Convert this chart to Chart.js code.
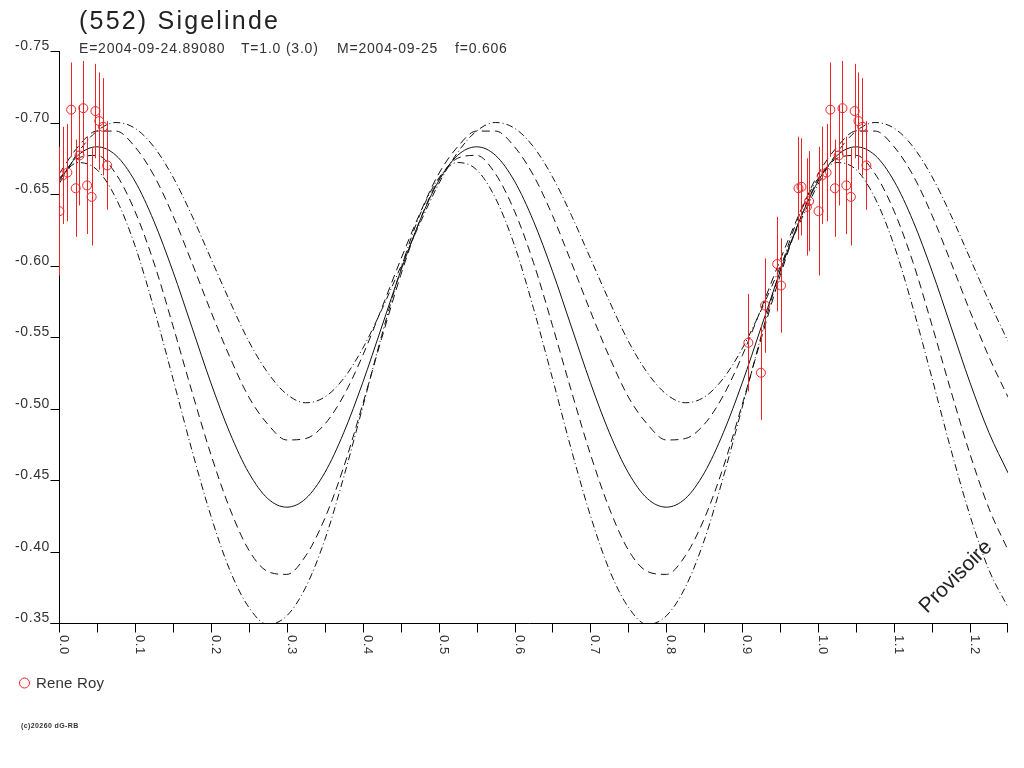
<!DOCTYPE html>
<html>
<head>
<meta charset="utf-8">
<title>(552) Sigelinde</title>
<script src="https://cdn.jsdelivr.net/npm/chart.js@4.4.1/dist/chart.umd.min.js"></script>
<style>
  html, body { margin: 0; padding: 0; background: #fff; }
  #wrap { width: 1024px; height: 768px; }
</style>
</head>
<body>
<div id="wrap"><canvas id="lc" width="1024" height="768"></canvas></div>
<script>
// phase grid of the fitted curves (0 .. 1.25)
const phaseGrid = [0,0.025,0.05,0.075,0.1,0.125,0.15,0.175,0.2,0.225,0.25,0.275,0.3,0.325,0.35,0.375,0.4,0.425,0.45,0.475,
  0.5,0.525,0.55,0.575,0.6,0.625,0.65,0.675,0.7,0.725,0.75,0.775,0.8,0.825,0.85,0.875,0.9,0.925,0.95,0.975,
  1,1.025,1.05,1.075,1.1,1.125,1.15,1.175,1.2,1.225,1.25];

// fitted light curve (solid) and the period variants (dashed / dash-dot)
const fitMain = [-0.659,-0.677,-0.683,-0.677,-0.659,-0.631,-0.596,-0.557,-0.518,-0.483,-0.455,-0.437,-0.431,-0.437,-0.455,-0.483,-0.518,-0.557,-0.596,-0.631,
  -0.659,-0.677,-0.683,-0.677,-0.659,-0.631,-0.596,-0.557,-0.518,-0.483,-0.455,-0.437,-0.431,-0.437,-0.455,-0.483,-0.518,-0.557,-0.596,-0.631,
  -0.659,-0.677,-0.683,-0.677,-0.659,-0.631,-0.596,-0.557,-0.518,-0.483,-0.455];
const fitDashA = [-0.660,-0.675,-0.677,-0.664,-0.638,-0.602,-0.558,-0.512,-0.468,-0.430,-0.401,-0.386,-0.384,-0.397,-0.423,-0.459,-0.503,-0.549,-0.593,-0.631,
  -0.660,-0.675,-0.677,-0.664,-0.638,-0.602,-0.558,-0.512,-0.468,-0.430,-0.401,-0.386,-0.384,-0.397,-0.423,-0.459,-0.503,-0.549,-0.593,-0.631,
  -0.660,-0.675,-0.677,-0.664,-0.638,-0.602,-0.558,-0.512,-0.468,-0.430,-0.401];
const fitDashB = [-0.664,-0.683,-0.694,-0.694,-0.683,-0.663,-0.635,-0.602,-0.568,-0.536,-0.508,-0.489,-0.478,-0.479,-0.489,-0.509,-0.537,-0.570,-0.604,-0.636,
  -0.664,-0.683,-0.694,-0.694,-0.683,-0.663,-0.635,-0.602,-0.568,-0.536,-0.508,-0.489,-0.478,-0.479,-0.489,-0.509,-0.537,-0.570,-0.604,-0.636,
  -0.664,-0.683,-0.694,-0.694,-0.683,-0.663,-0.635,-0.602,-0.568,-0.536,-0.508];
const fitDotA = [-0.661,-0.672,-0.667,-0.647,-0.614,-0.570,-0.521,-0.471,-0.425,-0.387,-0.361,-0.349,-0.355,-0.375,-0.408,-0.452,-0.501,-0.551,-0.597,-0.635,
  -0.661,-0.672,-0.667,-0.647,-0.614,-0.570,-0.521,-0.471,-0.425,-0.387,-0.361,-0.349,-0.355,-0.375,-0.408,-0.452,-0.501,-0.551,-0.597,-0.635,
  -0.661,-0.672,-0.667,-0.647,-0.614,-0.570,-0.521,-0.471,-0.425,-0.387,-0.361];
const fitDotB = [-0.657,-0.679,-0.694,-0.700,-0.696,-0.683,-0.662,-0.635,-0.605,-0.575,-0.547,-0.525,-0.510,-0.504,-0.508,-0.521,-0.542,-0.569,-0.599,-0.629,
  -0.657,-0.679,-0.694,-0.700,-0.696,-0.683,-0.662,-0.635,-0.605,-0.575,-0.547,-0.525,-0.510,-0.504,-0.508,-0.521,-0.542,-0.569,-0.599,-0.629,
  -0.657,-0.679,-0.694,-0.700,-0.696,-0.683,-0.662,-0.635,-0.605,-0.575,-0.547];

// observations (Rene Roy): phase, magnitude, error
const obsPhase = [0.0005,0.005,0.011,0.016,0.022,0.027,0.032,0.037,0.043,0.048,0.053,0.058,0.0635,
  0.908,0.9246,0.930,0.946,0.951,0.974,0.978,0.985,0.988,
  1.0005,1.005,1.011,1.016,1.022,1.027,1.032,1.037,1.043,1.048,1.053,1.058,1.0635];
const obsMag = [-0.638,-0.663,-0.665,-0.709,-0.654,-0.677,-0.710,-0.656,-0.648,-0.708,-0.701,-0.697,-0.670,
  -0.546,-0.525,-0.572,-0.601,-0.586,-0.654,-0.655,-0.641,-0.645,
  -0.638,-0.663,-0.665,-0.709,-0.654,-0.677,-0.710,-0.656,-0.648,-0.708,-0.701,-0.697,-0.670];
const obsErr = [0.045,0.034,0.034,0.033,0.034,0.035,0.033,0.034,0.034,0.033,0.034,0.034,0.031,
  0.034,0.033,0.033,0.033,0.033,0.036,0.034,0.034,0.035,
  0.045,0.034,0.034,0.033,0.034,0.035,0.033,0.034,0.034,0.033,0.034,0.034,0.031];

// axis ticks
const xMajor = [0,0.1,0.2,0.3,0.4,0.5,0.6,0.7,0.8,0.9,1.0,1.1,1.2];
const xMinor = [0.05,0.15,0.25,0.35,0.45,0.55,0.65,0.75,0.85,0.95,1.05,1.15,1.25];
const xLabels = ['0.0','0.1','0.2','0.3','0.4','0.5','0.6','0.7','0.8','0.9','1.0','1.1','1.2'];
const yTicks = [-0.75,-0.70,-0.65,-0.60,-0.55,-0.50,-0.45,-0.40,-0.35];

const RED = '#ee2222';
const FONT = '"Liberation Sans", Arial, sans-serif';

function xy(xs, ys) {
    return xs.map((x, i) => ({ x: x, y: ys[i] }));
}

function curve(values, dash) {
    return {
        data: xy(phaseGrid, values),
        showLine: true,
        borderColor: '#111',
        borderWidth: 1,
        borderDash: dash,
        pointRadius: 0,
        cubicInterpolationMode: 'monotone'
    };
}

// axes, error bars and all the text
const framePlugin = {
    id: 'frame',
    beforeDatasetsDraw(chart) {
        const ctx = chart.ctx, xs = chart.scales.x, ys = chart.scales.y, a = chart.chartArea;
        const x0 = Math.round(a.left) + 0.5, y0 = Math.round(a.bottom) + 0.5;
        ctx.save();
        ctx.strokeStyle = '#000';
        ctx.lineWidth = 1;
        ctx.beginPath();
        ctx.moveTo(x0 - 9, y0); ctx.lineTo(a.right, y0);
        ctx.moveTo(x0, Math.round(a.top)); ctx.lineTo(x0, y0 + 5);
        yTicks.forEach(v => {
            const py = Math.round(ys.getPixelForValue(v)) + 0.5;
            ctx.moveTo(x0 - 9, py); ctx.lineTo(x0, py);
        });
        xMajor.concat(xMinor).forEach(v => {
            const px = Math.min(Math.round(xs.getPixelForValue(v)), Math.round(a.right) - 1) + 0.5;
            ctx.moveTo(px, y0); ctx.lineTo(px, y0 + 9);
        });
        ctx.stroke();
        ctx.restore();
    },
    beforeDatasetDraw(chart, args) {
        if (args.index !== 0) return;
        const ctx = chart.ctx, xs = chart.scales.x, ys = chart.scales.y, a = chart.chartArea;
        ctx.save();
        ctx.beginPath();
        ctx.rect(a.left, a.top - 10, a.right - a.left, a.bottom - a.top + 10);
        ctx.clip();
        ctx.strokeStyle = RED;
        ctx.lineWidth = 1;
        ctx.beginPath();
        obsPhase.forEach((p, i) => {
            const px = Math.round(xs.getPixelForValue(p)) + 0.5;
            ctx.moveTo(px, ys.getPixelForValue(obsMag[i] - obsErr[i]));
            ctx.lineTo(px, ys.getPixelForValue(obsMag[i] + obsErr[i]));
        });
        ctx.stroke();
        ctx.restore();
    },
    afterDraw(chart) {
        const ctx = chart.ctx, xs = chart.scales.x, ys = chart.scales.y, a = chart.chartArea;
        ctx.save();
        ctx.fillStyle = '#333';

        // y tick labels sit just above their tick
        ctx.font = '14px ' + FONT;
        ctx.letterSpacing = '0.6px';
        ctx.textAlign = 'right';
        ctx.textBaseline = 'alphabetic';
        yTicks.forEach(v => {
            ctx.fillText(v.toFixed(2), a.left - 9, Math.round(ys.getPixelForValue(v)) - 1);
        });

        // x tick labels, turned clockwise
        ctx.font = '13px ' + FONT;
        ctx.textAlign = 'left';
        xMajor.forEach((v, i) => {
            ctx.save();
            ctx.translate(Math.round(xs.getPixelForValue(v)) + 1, a.bottom + 12);
            ctx.rotate(Math.PI / 2);
            ctx.fillText(xLabels[i], 0, 0);
            ctx.restore();
        });

        // title and header line
        ctx.fillStyle = '#222';
        ctx.font = '25px ' + FONT;
        ctx.letterSpacing = '2.2px';
        ctx.fillText('(552) Sigelinde', 79, 29);
        ctx.fillStyle = '#333';
        ctx.font = '14px ' + FONT;
        ctx.letterSpacing = '0.8px';
        ctx.fillText('E=2004-09-24.89080', 79, 53);
        ctx.fillText('T=1.0 (3.0)', 241, 53);
        ctx.fillText('M=2004-09-25', 337, 53);
        ctx.fillText('f=0.606', 455, 53);

        // legend
        ctx.strokeStyle = RED;
        ctx.lineWidth = 1;
        ctx.beginPath();
        ctx.arc(24.5, 683, 5, 0, Math.PI * 2);
        ctx.stroke();
        ctx.font = '15px ' + FONT;
        ctx.letterSpacing = '0.2px';
        ctx.fillText(chart.data.datasets[0].label, 36, 688);

        // copyright
        ctx.font = 'bold 7px ' + FONT;
        ctx.letterSpacing = '0.4px';
        ctx.fillText('(c)20260 dG-RB', 21, 728);

        // provisional stamp
        ctx.fillStyle = '#222';
        ctx.font = '21px ' + FONT;
        ctx.letterSpacing = '0px';
        ctx.translate(927, 614);
        ctx.rotate(-Math.PI / 4);
        ctx.fillText('Provisoire', 0, 0);
        ctx.restore();
    }
};

new Chart(document.getElementById('lc'), {
    type: 'scatter',
    data: {
        datasets: [
            {
                label: 'Rene Roy',
                data: xy(obsPhase, obsMag),
                pointStyle: 'circle',
                pointRadius: 4.5,
                borderColor: RED,
                backgroundColor: 'rgba(0,0,0,0)',
                borderWidth: 1,
                showLine: false
            },
            curve(fitMain, []),
            curve(fitDashA, [8, 5]),
            curve(fitDashB, [8, 5]),
            curve(fitDotA, [7, 3, 1, 3]),
            curve(fitDotB, [7, 3, 1, 3])
        ]
    },
    options: {
        responsive: false,
        animation: false,
        devicePixelRatio: 1,
        events: [],
        layout: { padding: { left: 59, top: 51, right: 16, bottom: 145 } },
        plugins: {
            legend: { display: false },
            tooltip: { enabled: false }
        },
        scales: {
            x: { type: 'linear', min: 0, max: 1.25, display: false },
            y: { type: 'linear', min: -0.75, max: -0.35, reverse: true, display: false }
        }
    },
    plugins: [framePlugin]
});
</script>
</body>
</html>
